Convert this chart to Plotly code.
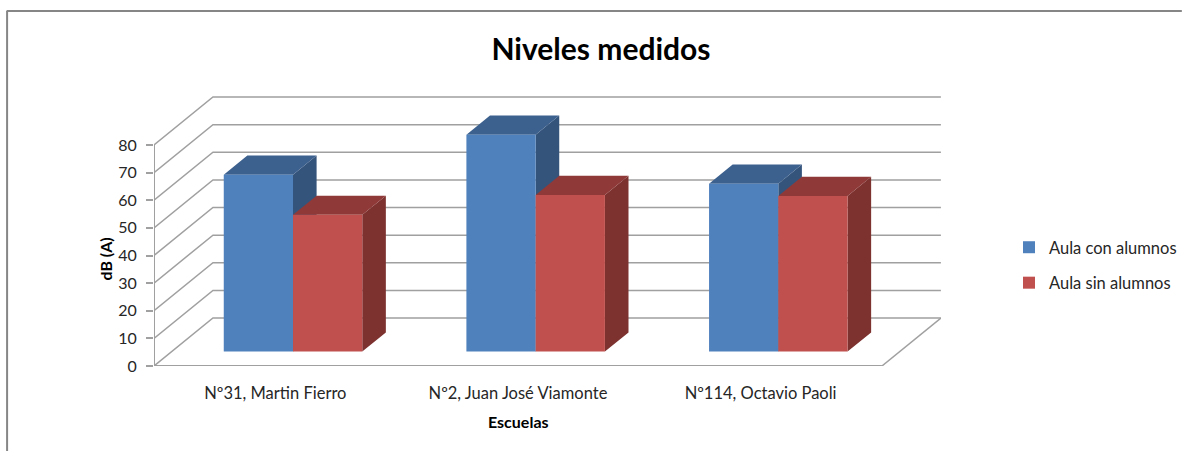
import plotly.graph_objects as go

# Data
categories = ["Nº31, Martin Fierro", "Nº2, Juan José Viamonte", "Nº114, Octavio Paoli"]
con_alumnos = [64.0, 78.5, 60.8]
sin_alumnos = [49.5, 56.7, 56.3]
y_ticks = [0, 10, 20, 30, 40, 50, 60, 70, 80]

# Chart geometry (oblique 3D projection)
W, H = 1182, 451
PX0, PX1, PY0, PY1 = 153.5, 941.0, 366.0, 96.0      # plot box in pixels
PX_PER_CAT = 242.8
PX_PER_VAL = 2.7625
DX = 59.0 / PX_PER_CAT        # wall depth along x, in category units
DY = 48.0 / PX_PER_VAL        # wall depth along y, in value units
X_MAX = (PX1 - PX0) / PX_PER_CAT
Y_MAX = (PY0 - PY1) / PX_PER_VAL
N = len(categories)
BAR_W = 69.3 / PX_PER_CAT
D_FRONT, D_BAR = 0.30, 0.40   # bar front position and bar depth, as fraction of the wall depth

GRID = "#A0A0A0"
BLUE, BLUE_TOP, BLUE_SIDE = "#4F81BD", "#3D618E", "#34547C"
RED, RED_TOP, RED_SIDE = "#C0504D", "#8F3A38", "#7D3230"
TEXT = "#262626"
FONT = "Lato"


def px(x):
    return (x - PX0) / (PX1 - PX0)


def py(y):
    return (PY0 - y) / (PY0 - PY1)


fig = go.Figure()

# Walls: side wall and back wall line of every tick, plus the floor outline
gx, gy = [], []
for t in y_ticks:
    gx += [0, DX, N + DX, None]
    gy += [t, t + DY, t + DY, None]
gx += [N, N + DX, None]
gy += [0, DY, None]
fig.add_trace(go.Scatter(x=gx, y=gy, mode="lines", line=dict(color=GRID, width=1.5),
                         hoverinfo="skip", showlegend=False))

# Front axis lines
fig.add_trace(go.Scatter(x=[0, 0, None, 0, N], y=[0, y_ticks[-1], None, 0, 0], mode="lines",
                         line=dict(color=GRID, width=2), hoverinfo="skip", showlegend=False))


def faces(values, left):
    """Top and side faces of a bar series, from its values."""
    tx, ty, sx, sy = [], [], [], []
    base = D_FRONT * DY
    for i, v in enumerate(values):
        x0 = i + 0.5 + D_FRONT * DX + left * BAR_W
        x1 = x0 + BAR_W
        y1 = base + v
        ddx, ddy = D_BAR * DX, D_BAR * DY
        tx += [x0, x1, x1 + ddx, x0 + ddx, x0, None]
        ty += [y1, y1, y1 + ddy, y1 + ddy, y1, None]
        sx += [x1, x1 + ddx, x1 + ddx, x1, x1, None]
        sy += [base, base + ddy, y1 + ddy, y1, base, None]
    return tx, ty, sx, sy


for values, left, top, side in [(con_alumnos, -1, BLUE_TOP, BLUE_SIDE), (sin_alumnos, 0, RED_TOP, RED_SIDE)]:
    tx, ty, sx, sy = faces(values, left)
    for fx, fy, col in [(sx, sy, side), (tx, ty, top)]:
        fig.add_trace(go.Scatter(x=fx, y=fy, mode="lines", fill="toself", fillcolor=col,
                                 line=dict(width=0, color=col), hoverinfo="skip", showlegend=False))

# Front faces: real bars on an overlaying axis pair with the same scales
bar_x = [i + 0.5 + D_FRONT * DX for i in range(N)]
bar_base = [D_FRONT * DY] * N
fig.add_trace(go.Bar(x=bar_x, y=con_alumnos, base=bar_base, name="Aula con alumnos", marker=dict(color=BLUE, line=dict(width=0)),
                     xaxis="x2", yaxis="y2", legendgroup="a"))
fig.add_trace(go.Bar(x=bar_x, y=sin_alumnos, base=bar_base, name="Aula sin alumnos", marker=dict(color=RED, line=dict(width=0)),
                     xaxis="x2", yaxis="y2", legendgroup="b"))

axis_font = dict(family=FONT, size=16.5, color=TEXT)

fig.update_layout(
    width=W, height=H,
    margin=dict(l=PX0, r=W - PX1, t=PY1, b=H - PY0, autoexpand=False),
    paper_bgcolor="white", plot_bgcolor="white",
    barmode="group", bargap=1 - 2 * BAR_W, bargroupgap=0,
    title=dict(text="<b>Niveles medidos</b>", x=601 / W, xanchor="center", xref="container",
               y=1 - 49 / H, yanchor="middle", yref="container",
               font=dict(family=FONT, size=30, color="#000000")),
    xaxis=dict(range=[0, X_MAX], tickmode="array", tickvals=[i + 0.5 for i in range(N)], ticktext=categories,
               showgrid=False, zeroline=False, showline=False, ticks="", tickfont=axis_font, ticklabelstandoff=15),
    yaxis=dict(range=[0, Y_MAX], tickmode="array", tickvals=y_ticks, showgrid=False, zeroline=False,
               showline=False, ticks="outside", ticklen=7, tickcolor=GRID, tickwidth=2, ticklabelstandoff=6,
               tickfont=dict(family=FONT, size=16, color=TEXT)),
    xaxis2=dict(range=[0, X_MAX], overlaying="x", visible=False, matches=None),
    yaxis2=dict(range=[0, Y_MAX], overlaying="y", visible=False),
    legend=dict(xref="container", yref="container", x=1009 / W, y=1 - 230 / H, xanchor="left", yanchor="top",
                traceorder="grouped", tracegroupgap=11, font=dict(family=FONT, size=16.5, color=TEXT),
                bgcolor="rgba(0,0,0,0)"),
    shapes=[
        dict(type="line", xref="paper", yref="paper", x0=px(6.5), x1=px(6.5), y0=py(11), y1=py(451),
             line=dict(color="#868686", width=2)),
        dict(type="line", xref="paper", yref="paper", x0=px(6), x1=px(1182), y0=py(11), y1=py(11),
             line=dict(color="#868686", width=2)),
    ],
    annotations=[
        dict(text="<b>dB (A)</b>", xref="paper", yref="paper", x=px(104), y=py(259), textangle=-90,
             xanchor="center", yanchor="middle", showarrow=False, font=dict(family=FONT, size=16, color="#000000")),
        dict(text="<b>Escuelas</b>", xref="paper", yref="paper", x=px(518), y=py(421),
             xanchor="center", yanchor="middle", showarrow=False, font=dict(family=FONT, size=16, color="#000000")),
    ],
)

fig.write_html("out.html", config=dict(displayModeBar=False), post_script="document.body.style.margin='0';")
